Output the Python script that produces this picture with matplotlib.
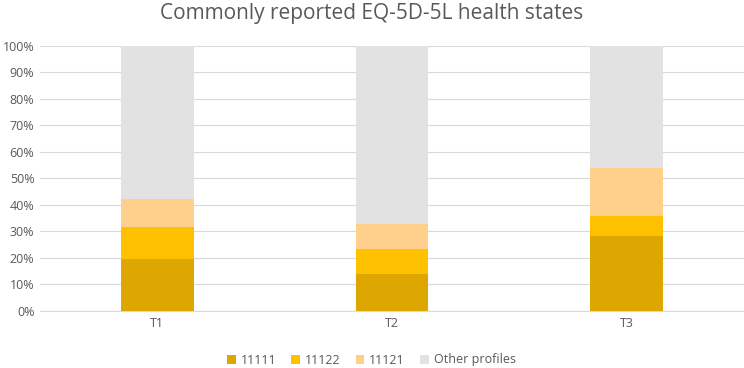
import matplotlib.pyplot as plt
import numpy as np
from matplotlib.ticker import PercentFormatter

# Share of respondents (%) per health state, per time point
timepoints = ['T1', 'T2', 'T3']
s11111 = [19.5, 13.9, 28.3]
s11122 = [12.0, 9.5, 7.5]
s11121 = [10.7, 9.4, 18.2]
other = [100 - a - b - c for a, b, c in zip(s11111, s11122, s11121)]

series = [('11111', s11111, '#DEA600'),
          ('11122', s11122, '#FFC000'),
          ('11121', s11121, '#FFD08C'),
          ('Other profiles', other, '#E2E2E2')]

plt.rcParams['font.family'] = ['Open Sans', 'DejaVu Sans']

fig = plt.figure(figsize=(7.44, 3.68), dpi=100)
ax = fig.add_axes([40/744, 1 - 311/368, 704/744, (311 - 45.7)/368])

x = np.arange(len(timepoints))
bottom = np.zeros(len(timepoints))
for name, vals, col in series:
    ax.bar(x, vals, 0.31, bottom=bottom, color=col, label=name, zorder=3)
    bottom += np.array(vals)

ax.set_xlim(-0.5, len(timepoints) - 0.5)
ax.set_ylim(0, 100)
ax.set_yticks(range(0, 101, 10))
ax.yaxis.set_major_formatter(PercentFormatter(decimals=0))
ax.set_xticks(x)
ax.set_xticklabels(timepoints)
ax.grid(axis='y', color='#D9D9D9', linewidth=0.8, zorder=0)
for s in ['top', 'right', 'left']:
    ax.spines[s].set_visible(False)
ax.spines['bottom'].set_color('#D9D9D9')
ax.tick_params(axis='both', length=0, labelsize=9, labelcolor='#595959', pad=4)

fig.text(0.5, 1 - 14/368, 'Commonly reported EQ-5D-5L health states',
         ha='center', va='center', fontsize=15, color='#595959')

fig.legend(loc='center', bbox_to_anchor=(0.499, 1 - 360/368), ncol=4, frameon=False,
           fontsize=9, labelcolor='#595959', handlelength=0.7, handleheight=0.7,
           handletextpad=0.4, columnspacing=1.2)

fig.savefig('out.png', dpi=100)
